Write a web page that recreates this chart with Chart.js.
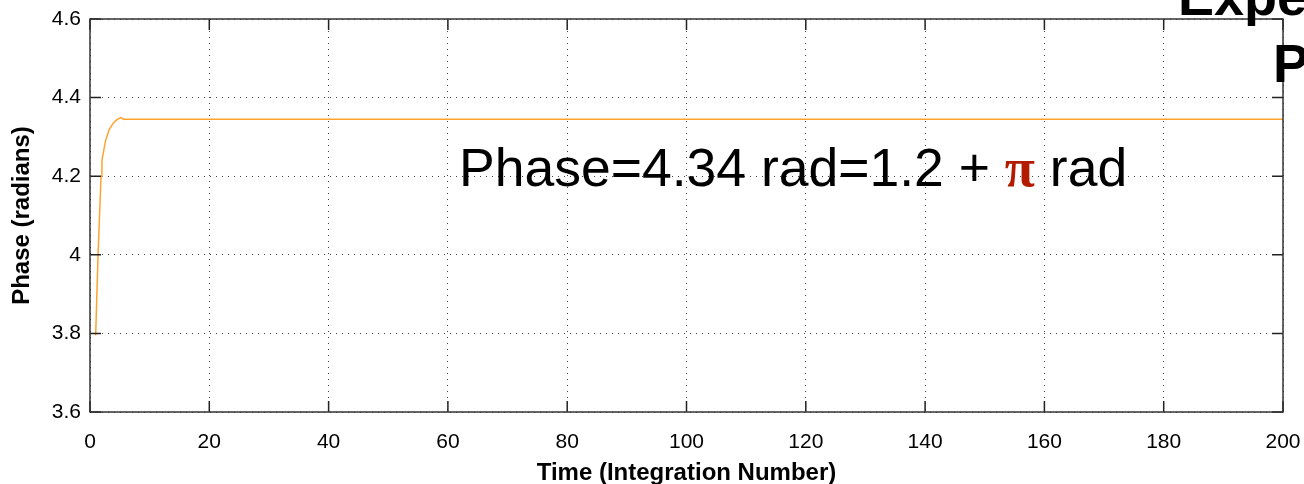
<!DOCTYPE html>
<html>
<head>
<meta charset="utf-8">
<script src="https://cdn.jsdelivr.net/npm/chart.js@4/dist/chart.umd.min.js"></script>
<style>
  html, body { margin: 0; padding: 0; background: #fff; overflow: hidden; }
  #wrap { position: relative; width: 1304px; height: 484px; }
</style>
</head>
<body>
<div id="wrap"><canvas id="phase-chart" width="1304" height="484"></canvas></div>
<script>
// phase estimate per integration number
var integration = [0.95, 1.35, 1.85, 2.0, 2.6, 3.2, 3.9, 4.5, 5.2, 5.6, 10, 50, 100, 150, 200];
var phase = [3.795, 4.0, 4.2, 4.24, 4.29, 4.318, 4.335, 4.344, 4.349, 4.345, 4.345, 4.345, 4.345, 4.345, 4.345];

var xTicks = [0, 20, 40, 60, 80, 100, 120, 140, 160, 180, 200];
var yTicks = [3.6, 3.8, 4, 4.2, 4.4, 4.6];

var points = integration.map(function (x, i) { return { x: x, y: phase[i] }; });

// inward tick marks, box and annotation text
var matlabBox = {
    id: 'matlabBox',
    afterDraw: function (chart) {
        var ctx = chart.ctx;
        var a = chart.chartArea;
        var xs = chart.scales.x, ys = chart.scales.y;
        ctx.save();
        ctx.strokeStyle = '#222';
        ctx.lineWidth = 1.5;
        ctx.beginPath();
        xTicks.forEach(function (v) {
            var px = xs.getPixelForValue(v);
            ctx.moveTo(px, a.bottom); ctx.lineTo(px, a.bottom - 11);
            ctx.moveTo(px, a.top); ctx.lineTo(px, a.top + 11);
        });
        yTicks.forEach(function (v) {
            var py = ys.getPixelForValue(v);
            ctx.moveTo(a.left, py); ctx.lineTo(a.left + 11, py);
            ctx.moveTo(a.right, py); ctx.lineTo(a.right - 11, py);
        });
        ctx.stroke();
        ctx.strokeStyle = '#333';
        ctx.strokeRect(a.left, a.top, a.right - a.left, a.bottom - a.top);

        // annotation
        ctx.textBaseline = 'alphabetic';
        ctx.textAlign = 'left';
        ctx.font = '53.5px "Liberation Sans", Arial, sans-serif';
        ctx.fillStyle = '#000';
        var x = 459, y = 186;
        var s1 = 'Phase=4.34 rad=1.2 + ';
        ctx.fillText(s1, x, y);
        x += ctx.measureText(s1).width;
        ctx.font = 'bold 55px "Liberation Serif", serif';
        ctx.fillStyle = '#b31b00';
        ctx.fillText('\u03c0', x, y);
        x += ctx.measureText('\u03c0').width;
        ctx.font = '53.5px "Liberation Sans", Arial, sans-serif';
        ctx.fillStyle = '#000';
        ctx.fillText(' rad', x, y);

        // slide title fragments, clipped by the page edge
        ctx.font = 'bold 54px "Liberation Sans", Arial, sans-serif';
        ctx.fillText('Expe', 1178, 15);
        ctx.fillText('P', 1273, 82);
        ctx.restore();
    }
};

var ctx = document.getElementById('phase-chart').getContext('2d');
new Chart(ctx, {
    type: 'scatter',
    data: {
        datasets: [{
            data: points,
            showLine: true,
            borderColor: 'rgb(255, 163, 45)',
            borderWidth: 1.5,
            pointRadius: 0,
            tension: 0
        }]
    },
    options: {
        responsive: false,
        animation: false,
        layout: { padding: { top: 19, right: 21, left: 0, bottom: 0 } },
        plugins: { legend: { display: false }, tooltip: { enabled: false } },
        scales: {
            x: {
                type: 'linear',
                min: 0,
                max: 200,
                afterBuildTicks: function (s) { s.ticks = xTicks.map(function (v) { return { value: v }; }); },
                afterFit: function (s) { s.height = 72; s.paddingLeft = 0; s.paddingRight = 0; },
                grid: { color: '#444', lineWidth: 1, drawTicks: false },
                border: { display: false, dash: [1, 5] },
                ticks: {
                    color: '#000',
                    padding: 18,
                    font: { family: '"Liberation Sans", Arial, sans-serif', size: 21 }
                },
                title: {
                    display: true,
                    text: 'Time (Integration Number)',
                    color: '#000',
                    padding: { top: 0, bottom: -4 },
                    font: { family: '"Liberation Sans", Arial, sans-serif', size: 24, weight: 'bold' }
                }
            },
            y: {
                type: 'linear',
                min: 3.6,
                max: 4.6,
                afterBuildTicks: function (s) { s.ticks = yTicks.map(function (v) { return { value: v }; }); },
                afterFit: function (s) { s.width = 90; s.paddingTop = 0; s.paddingBottom = 0; },
                grid: { color: '#444', lineWidth: 1, drawTicks: false },
                border: { display: false, dash: [1, 5] },
                ticks: {
                    color: '#000',
                    padding: 9,
                    font: { family: '"Liberation Sans", Arial, sans-serif', size: 21 },
                    callback: function (v) { return String(Math.round(v * 10) / 10); }
                },
                title: {
                    display: true,
                    text: 'Phase (radians)',
                    color: '#000',
                    padding: { top: 8, bottom: 0 },
                    font: { family: '"Liberation Sans", Arial, sans-serif', size: 24, weight: 'bold' }
                }
            }
        }
    },
    plugins: [matlabBox]
});
</script>
</body>
</html>
